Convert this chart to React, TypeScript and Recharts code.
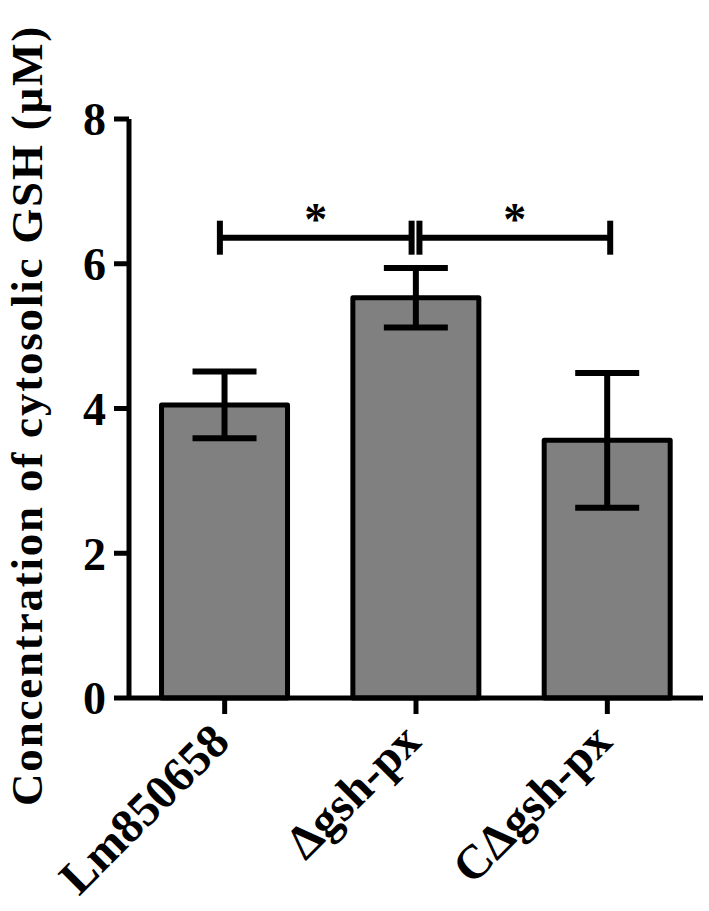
import React from 'react';
import { BarChart, Bar, XAxis, YAxis, ErrorBar, ReferenceLine, ReferenceDot } from 'recharts';

const FONT = '"Liberation Serif", "Times New Roman", serif';

const categories = ['Lm850658', 'Δgsh-px', 'CΔgsh-px'];
const means = [4.05, 5.53, 3.56];
const sems = [0.46, 0.41, 0.93];
const yTicks = [0, 2, 4, 6, 8];
const yTitle = 'Concentration of cytosolic GSH (μM)';

// significance brackets, in data units on a hidden numeric x axis (category i spans i..i+1)
const bracketStarts = [0.475, 1.518];
const bracketEnds = [1.477, 2.515];
const bracketLevel = 6.36;
const bracketCap = 0.235;
const starLevel = 6.4;
const starLabels = ['*', '*'];

const data = categories.map((name, i) => ({ name, pos: i + 0.5, value: means[i], err: sems[i] }));

const XTick = (props: any) => {
  const { x, y, payload } = props;
  return (
    <g transform={`translate(${x + 7},${y + 28})`}>
      <text transform="rotate(-45)" textAnchor="end" fontSize={48} fontWeight={700} fontFamily={FONT} fill="#000">
        {payload.value}
      </text>
    </g>
  );
};

const YTitle = (props: any) => {
  const vb = props.viewBox || { x: 0, y: 119, width: 129, height: 579 };
  const cy = vb.y + vb.height / 2 + 7;
  return (
    <text
      transform={`translate(42,${cy}) rotate(-90)`}
      textAnchor="middle"
      fontSize={45}
      fontWeight={700}
      fontFamily={FONT}
      letterSpacing={1.8}
      fill="#000"
    >
      {yTitle}
    </text>
  );
};

const Star = (label: string) => (p: any) => (
  <text x={p.cx} y={p.cy} textAnchor="middle" fontSize={46} fontWeight={700} fontFamily={FONT} fill="#000">
    {label}
  </text>
);

export default function App() {
  return (
    <div style={{ position: 'absolute', left: 0, top: 0, background: '#fff' }}>
      <BarChart
        width={709}
        height={911}
        data={data}
        margin={{ top: 119, right: 6, bottom: 0, left: 0 }}
        barCategoryGap="17%"
      >
        <XAxis
          dataKey="name"
          xAxisId="c"
          height={213}
          tickSize={16}
          tickMargin={2}
          interval={0}
          axisLine={{ stroke: '#000', strokeWidth: 5 }}
          tickLine={{ stroke: '#000', strokeWidth: 5 }}
          tick={<XTick />}
        />
        <XAxis
          xAxisId="n"
          dataKey="pos"
          type="number"
          domain={[0, 3]}
          ticks={[0, 1, 2, 3]}
          hide
          height={0}
          allowDataOverflow
        />
        <YAxis
          domain={[0, 8]}
          ticks={yTicks}
          interval={0}
          width={129}
          tickSize={15}
          tickMargin={8}
          axisLine={{ stroke: '#000', strokeWidth: 5 }}
          tickLine={{ stroke: '#000', strokeWidth: 5 }}
          tick={{ fill: '#000', fontSize: 46, fontWeight: 700, fontFamily: FONT }}
          label={<YTitle />}
        />
        <Bar
          dataKey="value"
          xAxisId="c"
          fill="#808080"
          stroke="#000"
          strokeWidth={5}
          strokeLinejoin="round"
          isAnimationActive={false}
        >
          <ErrorBar dataKey="err" width={32} stroke="#000" strokeWidth={6} isAnimationActive={false} />
        </Bar>
        {bracketStarts.map((s, i) => (
          <ReferenceLine
            key={`h${i}`}
            xAxisId="n"
            segment={[{ x: s, y: bracketLevel }, { x: bracketEnds[i], y: bracketLevel }]}
            stroke="#000"
            strokeWidth={6}
            ifOverflow="visible"
          />
        ))}
        {bracketStarts.map((s, i) => (
          <ReferenceLine
            key={`l${i}`}
            xAxisId="n"
            segment={[{ x: s, y: bracketLevel - bracketCap }, { x: s, y: bracketLevel + bracketCap }]}
            stroke="#000"
            strokeWidth={6}
            ifOverflow="visible"
          />
        ))}
        {bracketEnds.map((e, i) => (
          <ReferenceLine
            key={`r${i}`}
            xAxisId="n"
            segment={[{ x: e, y: bracketLevel - bracketCap }, { x: e, y: bracketLevel + bracketCap }]}
            stroke="#000"
            strokeWidth={6}
            ifOverflow="visible"
          />
        ))}
        {starLabels.map((lab, i) => (
          <ReferenceDot
            key={`s${i}`}
            xAxisId="n"
            x={(bracketStarts[i] + bracketEnds[i]) / 2}
            y={starLevel}
            r={0}
            ifOverflow="visible"
            shape={Star(lab)}
          />
        ))}
      </BarChart>
    </div>
  );
}
